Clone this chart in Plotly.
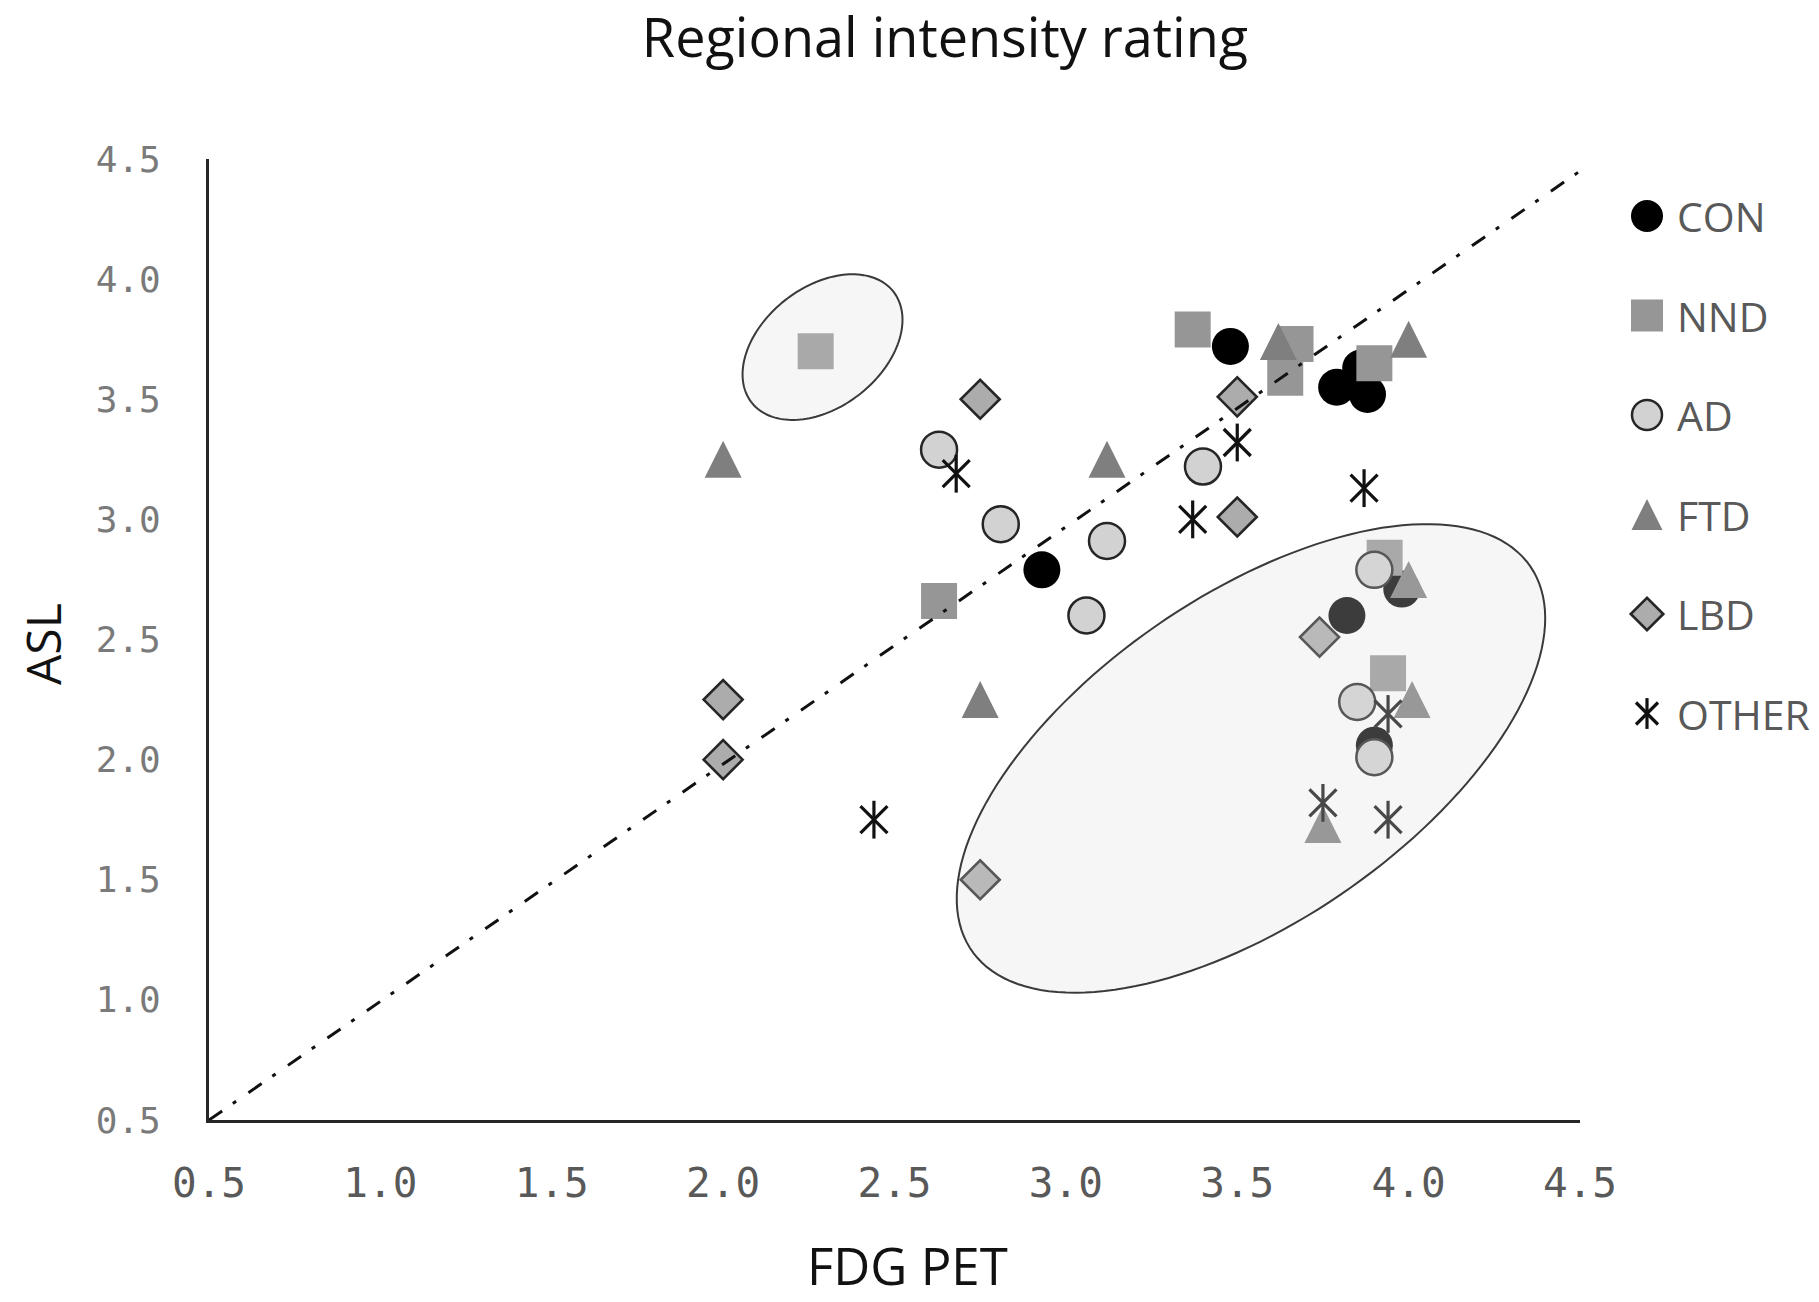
import numpy as np
import plotly.graph_objects as go

# ---------------- data ----------------
groups = ["CON", "NND", "AD", "FTD", "LBD", "OTHER"]

con_fdg = [3.48, 3.79, 3.86, 3.88, 2.93, 3.82, 3.98, 3.90]
con_asl = [3.72, 3.55, 3.63, 3.52, 2.79, 2.60, 2.71, 2.06]

nnd_fdg = [2.27, 3.37, 3.67, 3.64, 3.90, 2.63, 3.93, 3.94]
nnd_asl = [3.70, 3.79, 3.73, 3.59, 3.65, 2.66, 2.84, 2.36]

ad_fdg = [2.63, 2.81, 3.12, 3.06, 3.40, 3.90, 3.85, 3.90]
ad_asl = [3.29, 2.98, 2.91, 2.60, 3.22, 2.79, 2.24, 2.01]

ftd_fdg = [2.00, 3.12, 2.75, 3.62, 4.00, 4.00, 4.01, 3.75]
ftd_asl = [3.25, 3.25, 2.25, 3.74, 3.75, 2.75, 2.25, 1.73]

lbd_fdg = [2.75, 3.50, 3.50, 2.00, 2.00, 2.75, 3.74]
lbd_asl = [3.50, 3.51, 3.01, 2.25, 2.00, 1.50, 2.51]

other_fdg = [2.68, 3.50, 3.37, 3.87, 2.44, 3.94, 3.75, 3.94]
other_asl = [3.19, 3.32, 3.00, 3.13, 1.75, 2.19, 1.82, 1.75]

ref_line_x = [0.5, 4.5]
ref_line_y = [0.5, 4.45]

tick_vals = [0.5, 1.0, 1.5, 2.0, 2.5, 3.0, 3.5, 4.0, 4.5]
tick_text = ["%.1f" % v for v in tick_vals]

# ---------------- geometry ----------------
W, H = 1819, 1302
ML, MT, MB = 209, 159, 182
PLOT_W = 1371
PLOT_H = H - MT - MB
PAPER_W = W - ML
XDOM = PLOT_W / PAPER_W
SX = PLOT_W / 4.0   # px per data unit
SY = PLOT_H / 4.0

def ellipse_path(cx, cy, a_px, b_px, theta_deg, n=160):
    t = np.linspace(0, 2 * np.pi, n)
    th = np.radians(theta_deg)
    dx = a_px * np.cos(t) * np.cos(th) - b_px * np.sin(t) * np.sin(th)
    dy = a_px * np.cos(t) * np.sin(th) + b_px * np.sin(t) * np.cos(th)
    xs = cx + dx / SX
    ys = cy + dy / SY
    p = "M %.4f %.4f " % (xs[0], ys[0])
    p += " ".join("L %.4f %.4f" % (x, y) for x, y in zip(xs[1:], ys[1:]))
    return p + " Z"

# ---------------- styles ----------------
edge = "#262626"
ink = "#111111"
styles = {
    "CON": dict(symbol="circle", size=37, color="#000000", line=dict(width=0)),
    "NND": dict(symbol="square", size=36, color="#969696", line=dict(width=0)),
    "AD": dict(symbol="circle", size=36, color="#d2d2d2", line=dict(width=2.5, color=edge)),
    "FTD": dict(symbol="arrow-down", size=37, angle=180, standoff=18.5, color="#7f7f7f", line=dict(width=0)),
    "LBD": dict(symbol="diamond", size=30, color="#acacac", line=dict(width=2.6, color=edge)),
}
series = {
    "CON": (con_fdg, con_asl),
    "NND": (nnd_fdg, nnd_asl),
    "AD": (ad_fdg, ad_asl),
    "FTD": (ftd_fdg, ftd_asl),
    "LBD": (lbd_fdg, lbd_asl),
    "OTHER": (other_fdg, other_asl),
}

fig = go.Figure()

for g in groups:
    xs, ys = series[g]
    if g == "OTHER":
        for sym in ["x-thin-open", "line-ns-open"]:
            fig.add_trace(go.Scatter(x=xs, y=ys, mode="markers", name=g, showlegend=False,
                                     marker=dict(symbol=sym, size=27, color=ink,
                                                 line=dict(width=3.2, color=ink)),
                                     cliponaxis=False))
    else:
        fig.add_trace(go.Scatter(x=xs, y=ys, mode="markers", name=g, showlegend=False,
                                 marker=styles[g], cliponaxis=False))

# reference dash-dot line (drawn on top of markers)
fig.add_trace(go.Scatter(x=ref_line_x, y=ref_line_y, mode="lines", showlegend=False,
                         line=dict(color=ink, width=3, dash="16px,13px,4px,15px"),
                         hoverinfo="skip"))

# ---------------- custom legend on a helper axis ----------------
leg_x = 67
leg_y0, leg_dy = 57, 99.5
leg_sizes = {"CON": 32, "NND": 32, "AD": 30, "FTD": 31, "LBD": 25}
for i, g in enumerate(groups):
    yy = leg_y0 + i * leg_dy
    if g == "OTHER":
        for sym in ["x-thin-open", "line-ns-open"]:
            fig.add_trace(go.Scatter(x=[leg_x], y=[yy], mode="markers", xaxis="x2", yaxis="y2",
                                     showlegend=False, hoverinfo="skip",
                                     marker=dict(symbol=sym, size=22, color=ink,
                                                 line=dict(width=3.2, color=ink))))
    else:
        m = dict(styles[g])
        m["size"] = leg_sizes[g]
        if g == "FTD":
            m["standoff"] = leg_sizes[g] / 2
        fig.add_trace(go.Scatter(x=[leg_x], y=[yy], mode="markers", xaxis="x2", yaxis="y2",
                                 showlegend=False, hoverinfo="skip", marker=m))
    fig.add_annotation(x=leg_x + 28, y=yy, xref="x2", yref="y2", text=g, showarrow=False,
                       xanchor="left", yanchor="middle",
                       font=dict(family="Open Sans", size=41, color="#595959"))

# ---------------- ellipses (semi-transparent, above markers) ----------------
fig.add_shape(type="path", path=ellipse_path(2.29, 3.717, 90, 60, 38), xref="x", yref="y",
              layer="above", fillcolor="rgba(220,220,220,0.27)",
              line=dict(color="#3a3a3a", width=2))
fig.add_shape(type="path", path=ellipse_path(3.54, 2.005, 339, 163, 34.5), xref="x", yref="y",
              layer="above", fillcolor="rgba(220,220,220,0.27)",
              line=dict(color="#3a3a3a", width=2))

# ---------------- text ----------------
fig.add_annotation(text="ASL", xref="paper", yref="paper",
                   x=(42 - ML) / PAPER_W, y=(H - MB - 644) / PLOT_H,
                   showarrow=False, textangle=-90, xanchor="center", yanchor="middle",
                   font=dict(family="Open Sans", size=48, color=ink))
fig.add_annotation(text="FDG PET", xref="paper", yref="paper",
                   x=(907 - ML) / PAPER_W, y=(H - MB - 1302) / PLOT_H,
                   showarrow=False, xanchor="center", yanchor="bottom",
                   font=dict(family="Open Sans", size=51, color=ink))

fig.update_layout(
    width=W, height=H,
    margin=dict(l=ML, r=0, t=MT, b=MB, pad=0, autoexpand=False),
    paper_bgcolor="white", plot_bgcolor="white",
    showlegend=False,
    title=dict(text="Regional intensity rating", x=945 / W, xref="container", xanchor="center",
               y=1 - 38 / H, yref="container", yanchor="middle",
               font=dict(family="Open Sans", size=54, color=ink)),
    xaxis=dict(domain=[0, XDOM], range=[0.5, 4.5], tickvals=tick_vals, ticktext=tick_text,
               showline=True, linecolor=edge, linewidth=3, showgrid=False, zeroline=False,
               ticks="", ticklabelstandoff=25, automargin=False,
               tickfont=dict(family="DejaVu Sans Mono", size=41, color="#595959")),
    yaxis=dict(range=[0.5, 4.5], tickvals=tick_vals, ticktext=tick_text,
               showline=True, linecolor=edge, linewidth=3, showgrid=False, zeroline=False,
               ticks="", ticklabelstandoff=38, automargin=False,
               tickfont=dict(family="DejaVu Sans Mono", size=36, color="#7a7a7a")),
    xaxis2=dict(domain=[XDOM, 1.0], range=[0, W - ML - PLOT_W], visible=False,
                anchor="y2", fixedrange=True, automargin=False),
    yaxis2=dict(domain=[0, 1], range=[PLOT_H, 0], visible=False, anchor="x2",
                fixedrange=True, automargin=False),
)

fig.write_html("out.html", config={"displayModeBar": False},
               post_script="document.body.style.margin='0';document.body.style.overflow='hidden';")
